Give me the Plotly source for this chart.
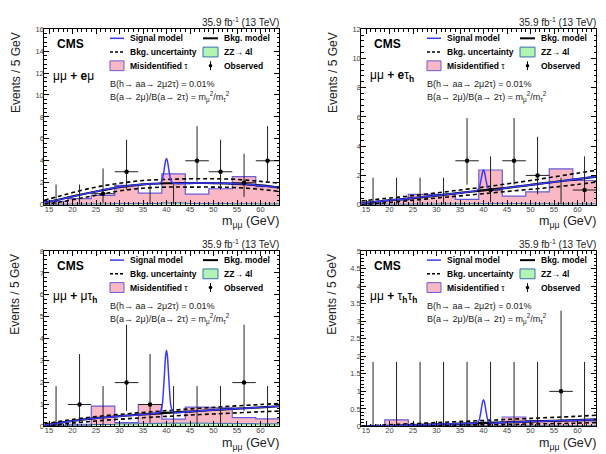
import plotly.graph_objects as go

# ---------------- data ----------------
BIN_EDGES = [14, 19, 24, 29, 34, 39, 44, 49, 54, 59, 64]
BIN_CENTERS = [16.5, 21.5, 26.5, 31.5, 36.5, 41.5, 46.5, 51.5, 56.5, 61.5]
BIN_HALF = 2.5
CURVE_X = [14, 17, 20, 25, 30, 35, 40, 45, 50, 55, 60, 64]
PEAK_X = [38.6, 39.1, 39.5, 39.8, 40.0, 40.2, 40.5, 40.9, 41.4]

CHANNEL_LABELS = [
    "μμ <b>+ e</b>μ",
    "μμ <b>+ e</b>τ<sub><b>h</b></sub>",
    "μμ <b>+</b> μτ<sub><b>h</b></sub>",
    "μμ <b>+</b> τ<sub><b>h</b></sub>τ<sub><b>h</b></sub>",
]
Y_MAX = [16, 12, 8, 5]
Y_DTICK = [2, 2, 1, 0.5]
Y_MINOR = [0.4, 0.4, 0.2, 0.1]
X_TICKS = [15, 20, 25, 30, 35, 40, 45, 50, 55, 60]

# observed counts per bin
OBS = [
    [0, 0, 1, 3, 0, 0, 4, 3, 2, 4],
    [0, 0, 0, 0, 3, 1, 3, 2, 0, 1],
    [0, 1, 0, 2, 1, 0, 0, 0, 2, 0],
    [0, 0, 0, 0, 0, 0, 0, 0, 1, 0],
]
# Poisson (Garwood) intervals by count
POISSON_LO = [0.0, 0.83, 1.29, 1.63, 1.91]
POISSON_HI = [1.84, 2.30, 2.64, 2.92, 3.16]

# ZZ -> 4l (bottom of stack)
ZZ = [
    [0.03, 0.05, 0.07, 0.09, 0.10, 0.15, 0.10, 0.09, 0.08, 0.07],
    [0.02, 0.03, 0.04, 0.05, 0.06, 0.07, 0.07, 0.06, 0.05, 0.05],
    [0.03, 0.06, 0.09, 0.12, 0.14, 0.15, 0.15, 0.14, 0.13, 0.12],
    [0.005, 0.01, 0.01, 0.015, 0.02, 0.02, 0.02, 0.02, 0.02, 0.02],
]
# Misidentified tau (stacked on ZZ)
MISID = [
    [0.27, 0.50, 0.78, 1.66, 0.95, 2.65, 0.85, 1.36, 2.47, 1.58],
    [0.08, 0.27, 0.66, 0.65, 0.30, 2.30, 0.51, 0.81, 2.39, 1.60],
    [0.02, 0.04, 0.84, 0.06, 0.86, 0.18, 0.73, 0.71, 0.27, 0.23],
    [0.015, 0.18, 0.04, 0.045, 0.06, 0.08, 0.25, 0.15, 0.15, 0.14],
]
# background model and its uncertainty band at CURVE_X
BKG = [
    [0.20, 0.45, 0.75, 1.20, 1.60, 1.85, 1.95, 1.97, 1.97, 1.90, 1.75, 1.55],
    [0.10, 0.20, 0.30, 0.45, 0.62, 0.80, 0.98, 1.15, 1.35, 1.55, 1.75, 1.92],
    [0.05, 0.15, 0.25, 0.38, 0.47, 0.55, 0.62, 0.68, 0.75, 0.81, 0.87, 0.92],
    [0.00, 0.01, 0.02, 0.04, 0.06, 0.08, 0.10, 0.12, 0.14, 0.16, 0.18, 0.20],
]
BKG_UP = [
    [0.40, 0.75, 1.10, 1.60, 1.95, 2.20, 2.30, 2.36, 2.36, 2.30, 2.12, 1.95],
    [0.25, 0.35, 0.45, 0.62, 0.80, 1.00, 1.20, 1.42, 1.65, 1.90, 2.15, 2.35],
    [0.12, 0.22, 0.32, 0.45, 0.55, 0.64, 0.72, 0.80, 0.87, 0.94, 1.00, 1.05],
    [0.01, 0.03, 0.05, 0.08, 0.11, 0.14, 0.17, 0.20, 0.23, 0.26, 0.29, 0.32],
]
BKG_DOWN = [
    [0.05, 0.20, 0.45, 0.85, 1.25, 1.50, 1.60, 1.60, 1.60, 1.55, 1.40, 1.20],
    [0.00, 0.07, 0.15, 0.30, 0.45, 0.60, 0.75, 0.90, 1.05, 1.20, 1.38, 1.55],
    [0.00, 0.08, 0.15, 0.25, 0.33, 0.40, 0.46, 0.52, 0.57, 0.62, 0.67, 0.70],
    [0.00, 0.00, 0.01, 0.02, 0.03, 0.04, 0.05, 0.06, 0.07, 0.08, 0.095, 0.11],
]
# signal + background around the 40 GeV peak at PEAK_X
PEAK = [
    [1.97, 2.25, 3.16, 3.99, 4.20, 3.99, 3.16, 2.25, 1.97],
    [0.98, 1.16, 1.73, 2.24, 2.37, 2.24, 1.73, 1.16, 0.99],
    [0.64, 1.00, 2.16, 3.21, 3.48, 3.21, 2.16, 1.00, 0.64],
    [0.10, 0.19, 0.46, 0.70, 0.76, 0.70, 0.46, 0.19, 0.10],
]

LUMI_TEXT = "35.9 fb<sup>-1</sup> (13 TeV)"
BR_TEXT_1 = "B(h→ aa→ 2μ2τ) = 0.01%"
BR_TEXT_2 = "B(a→ 2μ)/B(a→ 2τ) = m<sub>μ</sub><sup>2</sup>/m<sub>τ</sub><sup>2</sup>"

# ---------------- style / layout ----------------
W, H = 606, 454
FONT = "Liberation Sans"
PINK = "#f9b8c4"
PINK_LINE = "#6a5ad8"
GREEN = "#b2f5b2"
GREEN_LINE = "#3a6fb0"
SIG_BLUE = "#3a3aff"

# panel boxes in pixels (left, top, right, bottom)
BOXES = [
    (44.3, 25.7, 279.3, 204.7),
    (361.3, 25.7, 596.3, 204.7),
    (44.3, 252.0, 279.3, 431.0),
    (361.3, 252.0, 596.3, 431.0),
]


def px(x):
    return x / W


def py(y):
    return 1 - y / H


fig = go.Figure()
annotations = []
shapes = []

for i in range(4):
    L, T, R, B = BOXES[i]
    xa = "x" if i == 0 else f"x{i+1}"
    ya = "y" if i == 0 else f"y{i+1}"
    total = [z + m for z, m in zip(ZZ[i], MISID[i])]

    # stacked histograms (step fills)
    fig.add_trace(go.Scatter(
        x=BIN_EDGES, y=total + [total[-1]], mode="lines", line_shape="hv",
        fill="tozeroy", fillcolor=PINK, line=dict(color=PINK_LINE, width=1.2),
        xaxis=xa, yaxis=ya, hoverinfo="skip", showlegend=False))
    fig.add_trace(go.Scatter(
        x=BIN_EDGES, y=ZZ[i] + [ZZ[i][-1]], mode="lines", line_shape="hv",
        fill="tozeroy", fillcolor=GREEN, line=dict(color=GREEN_LINE, width=1),
        xaxis=xa, yaxis=ya, hoverinfo="skip", showlegend=False))

    # background uncertainty
    for band in (BKG_UP[i], BKG_DOWN[i]):
        fig.add_trace(go.Scatter(
            x=CURVE_X, y=band, mode="lines", line_shape="spline",
            line=dict(color="black", width=1.6, dash="4px,3px"),
            xaxis=xa, yaxis=ya, hoverinfo="skip", showlegend=False))
    # background model
    fig.add_trace(go.Scatter(
        x=CURVE_X, y=BKG[i], mode="lines", line_shape="spline",
        line=dict(color="black", width=2.2),
        xaxis=xa, yaxis=ya, hoverinfo="skip", showlegend=False))
    # signal model = bkg outside peak region + peak points
    sig_pts = [(x, y) for x, y in zip(CURVE_X, BKG[i]) if x < PEAK_X[0] or x > PEAK_X[-1]]
    sig_pts += list(zip(PEAK_X, PEAK[i]))
    sig_pts.sort()
    fig.add_trace(go.Scatter(
        x=[p[0] for p in sig_pts], y=[p[1] for p in sig_pts], mode="lines",
        line_shape="spline", line=dict(color=SIG_BLUE, width=1.5, smoothing=0.6),
        xaxis=xa, yaxis=ya, hoverinfo="skip", showlegend=False))

    # observed: zero-count bins (only upper error)
    zx = [c for c, n in zip(BIN_CENTERS, OBS[i]) if n == 0]
    zhi = [POISSON_HI[0] for n in OBS[i] if n == 0]
    fig.add_trace(go.Scatter(
        x=zx, y=[0] * len(zx), mode="markers",
        marker=dict(size=1, color="rgba(0,0,0,0)"),
        error_y=dict(type="data", symmetric=False, array=zhi,
                     arrayminus=[0] * len(zx), color="#222", thickness=1, width=0),
        xaxis=xa, yaxis=ya, hoverinfo="skip", showlegend=False, cliponaxis=False))
    # observed: non-zero bins
    nx = [c for c, n in zip(BIN_CENTERS, OBS[i]) if n > 0]
    ny = [n for n in OBS[i] if n > 0]
    fig.add_trace(go.Scatter(
        x=nx, y=ny, mode="markers",
        marker=dict(size=4.5, color="black"),
        error_y=dict(type="data", symmetric=False,
                     array=[POISSON_HI[n] for n in ny],
                     arrayminus=[POISSON_LO[n] for n in ny],
                     color="#222", thickness=1, width=0),
        error_x=dict(type="constant", value=BIN_HALF, color="#222", thickness=1, width=0),
        xaxis=xa, yaxis=ya, hoverinfo="skip", showlegend=False))

    # axes
    axis_common = dict(
        showline=True, linecolor="black", linewidth=1, mirror="ticks",
        ticks="inside", ticklen=5, tickwidth=1, tickcolor="black",
        showgrid=False, zeroline=False,
        tickfont=dict(family=FONT, size=7.5, color="#444"),
    )
    fig.update_layout(**{
        ("xaxis" if i == 0 else f"xaxis{i+1}"): dict(
            axis_common, domain=[px(L), px(R)], range=[14, 64],
            anchor=ya, tickvals=X_TICKS, ticklabelstandoff=-3,
            minor=dict(ticks="inside", ticklen=2.5, dtick=1, tick0=14,
                       tickcolor="black", showgrid=False),
        ),
        ("yaxis" if i == 0 else f"yaxis{i+1}"): dict(
            axis_common, domain=[py(B), py(T)], range=[0, Y_MAX[i]],
            anchor=xa, dtick=Y_DTICK[i], tick0=0, ticklabelstandoff=-2,
            minor=dict(ticks="inside", ticklen=2.5, dtick=Y_MINOR[i],
                       tickcolor="black", showgrid=False),
        ),
    })

    def ann(text, x, y, xanchor="left", yanchor="middle", size=9, color="black", **kw):
        annotations.append(dict(
            text=text, x=px(x), y=py(y), xref="paper", yref="paper",
            xanchor=xanchor, yanchor=yanchor, showarrow=False,
            font=dict(family=FONT, size=size, color=color), **kw))

    # header and titles
    ann(LUMI_TEXT, R + 2, T - 7, xanchor="right", size=10, color="#222")
    ann("<b>CMS</b>", L + 11, T + 15.3, size=12)
    ann(CHANNEL_LABELS[i], L + 7, T + 47.3, size=12)
    ann(BR_TEXT_1, L + 64, T + 56.3, size=9, color="#222")
    ann(BR_TEXT_2, L + 64, T + 69, size=9, color="#222")
    ann("m<sub>μμ</sub> (GeV)", R + 2, B + 17.5, xanchor="right", size=12.5, color="#222")
    ann("Events / 5 GeV", L - 29, T + 1, xanchor="center", yanchor="top",
        size=12, color="#222", textangle=-90)

    # legend
    rows = [T + 9.3, T + 23.3, T + 37.3]
    c1a, c1b, c1t = L + 65.7, L + 79.7, L + 83.7
    c2a, c2b, c2t = L + 158.7, L + 173.7, L + 177.7
    ann("<b>Signal model</b>", c1t, rows[0], size=8.5)
    ann("<b>Bkg. model</b>", c2t, rows[0], size=8.5)
    ann("<b>Bkg. uncertainty</b>", c1t, rows[1], size=8.5)
    ann("<b>ZZ→ 4l</b>", c2t, rows[1], size=8.5)
    ann("<b>Misidentified</b> τ", c1t, rows[2], size=8.5)
    ann("<b>Observed</b>", c2t, rows[2], size=8.5)

    shapes.append(dict(type="line", xref="paper", yref="paper",
                       x0=px(c1a), x1=px(c1b), y0=py(rows[0]), y1=py(rows[0]),
                       line=dict(color=SIG_BLUE, width=1.5)))
    shapes.append(dict(type="line", xref="paper", yref="paper",
                       x0=px(c2a), x1=px(c2b), y0=py(rows[0]), y1=py(rows[0]),
                       line=dict(color="black", width=2)))
    shapes.append(dict(type="line", xref="paper", yref="paper",
                       x0=px(c1a), x1=px(c1b), y0=py(rows[1]), y1=py(rows[1]),
                       line=dict(color="black", width=1.5, dash="3px,2px")))
    shapes.append(dict(type="rect", xref="paper", yref="paper",
                       x0=px(c2a), x1=px(c2b), y0=py(rows[1] + 5), y1=py(rows[1] - 5),
                       fillcolor=GREEN, line=dict(color=GREEN_LINE, width=1)))
    shapes.append(dict(type="rect", xref="paper", yref="paper",
                       x0=px(c1a), x1=px(c1b), y0=py(rows[2] + 5), y1=py(rows[2] - 5),
                       fillcolor=PINK, line=dict(color=PINK_LINE, width=1)))
    mx = (c2a + c2b) / 2
    shapes.append(dict(type="line", xref="paper", yref="paper",
                       x0=px(mx), x1=px(mx), y0=py(rows[2] + 4.5), y1=py(rows[2] - 4.5),
                       line=dict(color="black", width=1)))
    shapes.append(dict(type="circle", xref="paper", yref="paper",
                       x0=px(mx - 1.8), x1=px(mx + 1.8), y0=py(rows[2] + 1.8), y1=py(rows[2] - 1.8),
                       fillcolor="black", line=dict(color="black", width=0)))

fig.update_layout(
    width=W, height=H, margin=dict(l=0, r=0, t=0, b=0),
    paper_bgcolor="white", plot_bgcolor="white",
    font=dict(family=FONT, color="black"),
    annotations=annotations, shapes=shapes, showlegend=False,
)

fig.write_html("out.html")
